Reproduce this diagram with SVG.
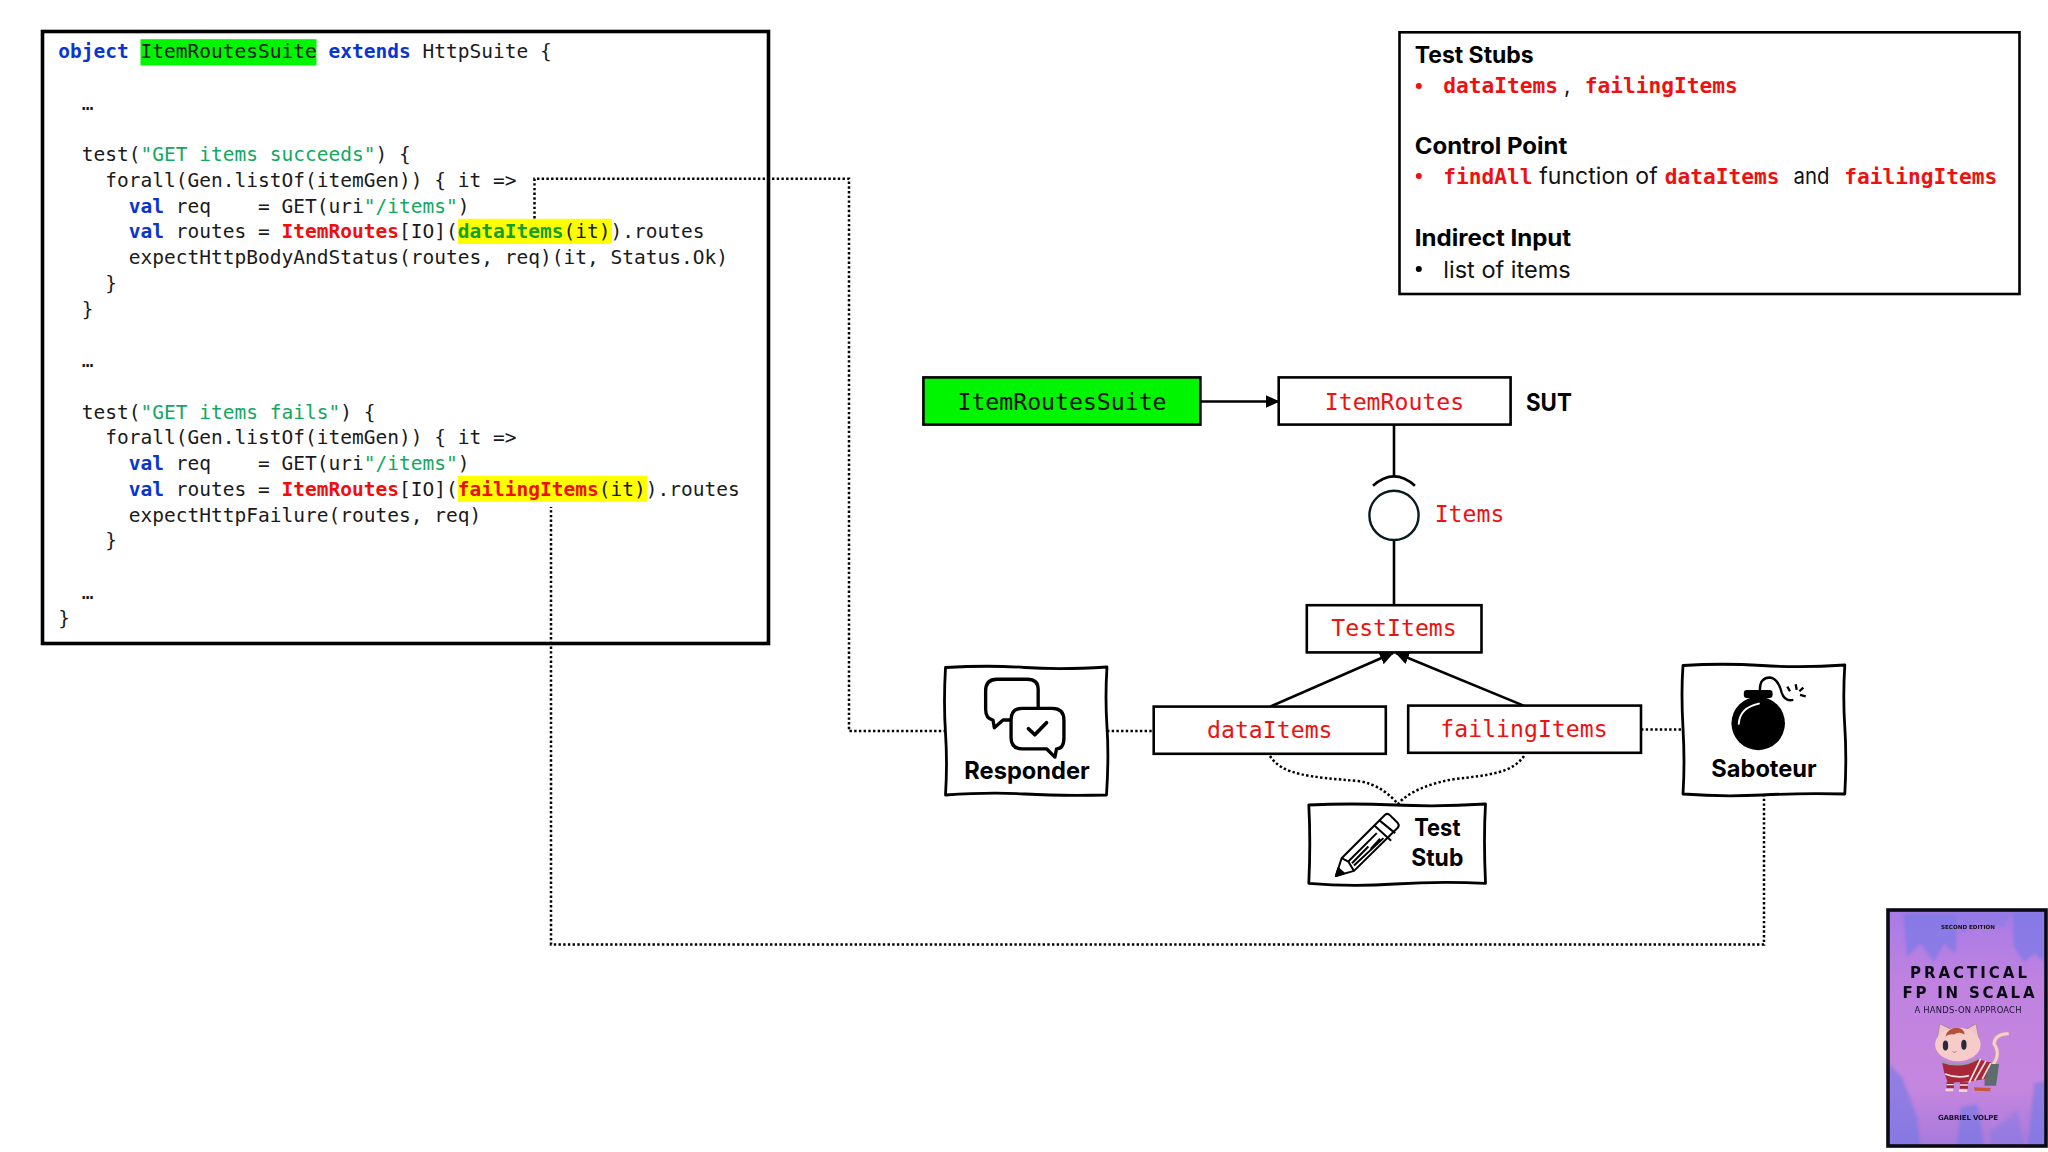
<svg xmlns="http://www.w3.org/2000/svg" width="2048" height="1152" viewBox="0 0 2048 1152">
<style>
.code{font-family:"DejaVu Sans Mono","Liberation Mono",monospace;font-size:19.53px;fill:#1a1a1a;white-space:pre}
.k{fill:#0a35d0;font-weight:700}.s{fill:#12a860}.r{fill:#f20d0d;font-weight:700}.g{fill:#12a02a;font-weight:700}
.mono{font-family:"DejaVu Sans Mono","Liberation Mono",monospace;font-size:23.17px;fill:#ee1111;text-anchor:middle}
.b{fill:#fff;stroke:#000;stroke-width:2.6}
.sk{fill:#fff;stroke:#000;stroke-width:2.8;stroke-linejoin:round}
.h{font-family:Inter,"Liberation Sans",sans-serif;font-size:22.5px;font-weight:700;fill:#000}
.t{font-family:Inter,"Liberation Sans",sans-serif;font-size:22.5px;font-weight:400;fill:#111}
.m{font-family:"DejaVu Sans Mono","Liberation Mono",monospace;font-size:21.2px;font-weight:700;fill:#ee1111}
.lbl{font-family:Inter,"Liberation Sans",sans-serif;font-size:24px;font-weight:700;fill:#000}
.dot{fill:none;stroke:#000;stroke-width:2.5;stroke-dasharray:2.4 2.3}
.ln{fill:none;stroke:#000;stroke-width:2.6}
.cv{font-family:"DejaVu Sans",sans-serif;text-anchor:middle}
</style>
<defs>
<marker id="ah" markerUnits="userSpaceOnUse" markerWidth="15" markerHeight="15" refX="13" refY="6.5" orient="auto"><path d="M0 0L14 6.500L0 13Z" fill="#000"/></marker>
<linearGradient id="cvbg" x1="0" y1="0" x2="0" y2="1"><stop offset="0" stop-color="#a77be6"/><stop offset=".3" stop-color="#bf82e0"/><stop offset=".75" stop-color="#c586de"/><stop offset="1" stop-color="#a87adc"/></linearGradient>
<filter id="bl" x="-20%" y="-20%" width="140%" height="140%"><feGaussianBlur stdDeviation="5"/></filter>
</defs>
<rect width="2048" height="1152" fill="#fff"/>

<g id="code-box">
<rect x="42.500" y="31.500" width="726" height="612" fill="#fff" stroke="#000" stroke-width="3.6"/>
<rect x="140.500" y="39.200" width="176" height="26.300" fill="#00f500"/>
<rect x="458" y="218.800" width="154" height="25.200" fill="#ffff00"/>
<rect x="458" y="475.800" width="189" height="26" fill="#ffff00"/>
<text class="code" x="58.200" y="58.200"><tspan class="k">object</tspan> ItemRoutesSuite <tspan class="k">extends</tspan> HttpSuite {</text>
<text class="code" x="81.700" y="109.700">…</text>
<text class="code" x="81.700" y="161.200">test(<tspan class="s">"GET items succeeds"</tspan>) {</text>
<text class="code" x="105.200" y="186.900">forall(Gen.listOf(itemGen)) { it =&gt;</text>
<text class="code" x="128.800" y="212.600"><tspan class="k">val</tspan> req    = GET(uri<tspan class="s">"/items"</tspan>)</text>
<text class="code" x="128.800" y="238.400"><tspan class="k">val</tspan> routes = <tspan class="r">ItemRoutes</tspan>[IO](<tspan class="g">dataItems</tspan>(it)).routes</text>
<text class="code" x="128.800" y="264.100">expectHttpBodyAndStatus(routes, req)(it, Status.Ok)</text>
<text class="code" x="105.200" y="289.900">}</text>
<text class="code" x="81.700" y="315.600">}</text>
<text class="code" x="81.700" y="367">…</text>
<text class="code" x="81.700" y="418.600">test(<tspan class="s">"GET items fails"</tspan>) {</text>
<text class="code" x="105.200" y="444.300">forall(Gen.listOf(itemGen)) { it =&gt;</text>
<text class="code" x="128.800" y="470"><tspan class="k">val</tspan> req    = GET(uri<tspan class="s">"/items"</tspan>)</text>
<text class="code" x="128.800" y="495.800"><tspan class="k">val</tspan> routes = <tspan class="r">ItemRoutes</tspan>[IO](<tspan class="r">failingItems</tspan>(it)).routes</text>
<text class="code" x="128.800" y="521.500">expectHttpFailure(routes, req)</text>
<text class="code" x="105.200" y="547.300">}</text>
<text class="code" x="81.700" y="598.700">…</text>
<text class="code" x="58.200" y="624.500">}</text>
</g>

<g id="legend">
<rect x="1399.500" y="32.300" width="620" height="261.700" fill="#fff" stroke="#000" stroke-width="2.6"/>
<text class="h" x="1414.700" y="63.200" textLength="119" lengthAdjust="spacingAndGlyphs">Test Stubs</text>
<circle cx="1418.800" cy="86" r="3" fill="#ee1111"/>
<text class="m" x="1443.300" y="93.300">dataItems</text><text class="t" x="1564" y="93.300">,</text><text class="m" x="1584.800" y="93.300">failingItems</text>
<text class="h" x="1414.700" y="153.600" textLength="152.500" lengthAdjust="spacingAndGlyphs">Control Point</text>
<circle cx="1418.800" cy="176" r="3" fill="#ee1111"/>
<text class="m" x="1443.300" y="183.700">findAll</text><text class="t" x="1539.300" y="183.700" textLength="118.400" lengthAdjust="spacingAndGlyphs">function of</text><text class="m" x="1664.700" y="183.700">dataItems</text><text class="t" x="1793.600" y="183.700" textLength="36" lengthAdjust="spacingAndGlyphs">and</text><text class="m" x="1844.300" y="183.700">failingItems</text>
<text class="h" x="1414.700" y="245.900" textLength="156.500" lengthAdjust="spacingAndGlyphs">Indirect Input</text>
<circle cx="1418.800" cy="269" r="3" fill="#000"/>
<text class="t" x="1443.300" y="278" textLength="127.500" lengthAdjust="spacingAndGlyphs">list of items</text>
</g>

<g id="connectors">
<path class="ln" marker-end="url(#ah)" d="M1200.400 401.500H1278.700"/>
<path class="ln" d="M1394 424.600V477"/>
<path class="ln" d="M1394 540V605.200"/>
<path class="ln" marker-end="url(#ah)" d="M1270.400 706.600L1393 653"/>
<path class="ln" marker-end="url(#ah)" d="M1523.600 705.600L1396 653"/>
<path class="dot" d="M534.500 218.500V178.700H849V731H945.500"/>
<path class="dot" d="M1107 731H1153.700"/>
<path class="dot" d="M1641 729.400H1683"/>
<path class="dot" d="M1764 794V944.500H551V507"/>
<path class="dot" d="M1270 756C1282 775 1310 777 1358 781C1378 784 1390 795 1398 804"/>
<path class="dot" d="M1524 756C1512 773 1490 775 1455 779C1430 783 1408 792 1398 804"/>
</g>

<g id="ItemRoutesSuite">
<rect x="923.400" y="377.400" width="277" height="47.200" fill="#00f500" stroke="#000" stroke-width="2.6"/>
<text class="mono" x="1062" y="409.900" style="fill:#111">ItemRoutesSuite</text>
</g>
<g id="ItemRoutes">
<rect class="b" x="1278.700" y="377.400" width="231.900" height="47.200"/>
<text class="mono" x="1394.500" y="409.900">ItemRoutes</text>
<text class="lbl" x="1526" y="410.500" textLength="45.800" lengthAdjust="spacingAndGlyphs">SUT</text>
</g>
<g id="Items">
<path class="ln" d="M1373 485.800Q1394 467 1415 485.800"/>
<circle cx="1394" cy="515.400" r="24.600" fill="#fff" stroke="#0a1a20" stroke-width="2.4"/>
<text class="mono" x="1469.500" y="521.900">Items</text>
</g>
<g id="TestItems">
<rect class="b" x="1306.800" y="605.200" width="174.700" height="47.200"/>
<text class="mono" x="1394" y="636.300">TestItems</text>
</g>
<g id="dataItems">
<rect class="b" x="1153.700" y="706.600" width="232.100" height="47.200"/>
<text class="mono" x="1269.800" y="737.700">dataItems</text>
</g>
<g id="failingItems">
<rect class="b" x="1408.200" y="705.600" width="232.800" height="47.200"/>
<text class="mono" x="1524" y="736.700">failingItems</text>
</g>

<g id="Responder">
<path class="sk" d="M945.500 667.500Q990 665 1025 667.500T1107 667Q1105 697 1107 727T1106.500 795Q1060 796 1025 794T945.500 795Q947.500 763 945.500 733T945.500 667.500Z"/>
<g transform="translate(923.400 642.400) scale(.3346)" fill="none" stroke="#000" stroke-linejoin="round" stroke-linecap="round">
<path stroke-width="10" d="M343 195V140Q343 110 310 110H220Q186 110 186 145V200Q186 228 208 232L212 255L238 232H262"/>
<path stroke-width="10" fill="#fff" d="M295 197H385Q420 197 420 232V285Q420 318 398 318L393 343L368 318H295Q262 318 262 285V232Q262 197 295 197Z"/>
<path stroke-width="11" d="M314 258L333 276L368 240"/>
</g>
<text class="lbl" x="964.300" y="778.900" textLength="125.400" lengthAdjust="spacingAndGlyphs">Responder</text>
</g>

<g id="Saboteur">
<path class="sk" d="M1683 665.500Q1722 663 1762 665.500T1844.800 665Q1842.800 697 1844.800 727T1844.800 794Q1802 793 1762 795T1683 794Q1685 763 1683 728T1683 665.500Z"/>
<g transform="translate(1405.200 642.400) scale(.3346)">
<circle cx="1055" cy="242" r="80" fill="#000"/>
<rect x="1012" y="142" width="86" height="24" rx="9" fill="#000"/>
<path d="M1060 142Q1060 105 1090 105Q1115 108 1125 150Q1135 178 1160 172" fill="none" stroke="#000" stroke-width="7"/>
<path d="M1142 132L1150 146M1167 125L1170 142M1190 135L1178 146M1197 161L1180 157" stroke="#000" stroke-width="7"/>
<path d="M997 243Q1000 195 1057 183" fill="none" stroke="#fff" stroke-width="6" stroke-linecap="round"/>
</g>
<text class="lbl" x="1711.300" y="776.900" textLength="105.400" lengthAdjust="spacingAndGlyphs">Saboteur</text>
</g>

<g id="TestStub">
<path class="sk" d="M1308.800 805Q1350 803 1395 805T1485.500 804Q1483.500 838 1485.500 883.300Q1440 881 1395 884T1308.800 883.300Q1310.800 843 1308.800 805Z"/>
<g transform="translate(1329.900 808) scale(.3346)" fill="none" stroke="#000" stroke-width="6" stroke-linejoin="round">
<path d="M18 203L35 150L165 20Q172 14 180 22L203 45Q209 52 202 60L72 188Z"/>
<path d="M35 150L55 160L72 188M133 52L183 98M148 37L195 75M55 160L140 75M72 172L160 90M66 165L115 115M122 122L150 92"/>
<path d="M18 203L25 180L42 195Z" fill="#000"/>
</g>
<text class="lbl" x="1414.200" y="836" textLength="46.200" lengthAdjust="spacingAndGlyphs">Test</text>
<text class="lbl" x="1411.200" y="866.200" textLength="52.200" lengthAdjust="spacingAndGlyphs">Stub</text>
</g>

<g id="book-cover">
<rect x="1888" y="910" width="158" height="236" fill="url(#cvbg)"/>
<g transform="translate(1876.900 903.300) scale(.3346)" filter="url(#bl)" opacity=".6" fill="#6f78e6">
<path d="M80 30H240L235 150L200 120L170 175L130 120L90 160Z"/>
<path d="M405 25H500V175L470 150L440 175L410 130Z"/>
<path d="M240 25H405L380 70L300 60L250 90Z" opacity=".6"/>
<path d="M35 480L75 520L120 640L130 725H35Z"/>
<path d="M250 610L300 600L320 725H240Z"/>
<path d="M470 540L505 530V725H450Z"/>
<path d="M340 680L420 620L440 725H340Z" opacity=".6"/>
</g>
<g transform="translate(1927.100 1013.700) scale(.3346)">
<path d="M195 155Q222 120 200 90Q202 62 240 60" fill="none" stroke="#c59aa8" stroke-width="13" stroke-linecap="round"/>
<path d="M195 155Q222 120 200 90Q202 62 240 60" fill="none" stroke="#f6cfcb" stroke-width="9" stroke-linecap="round"/>
<path d="M172 150L215 150L206 215L172 215Z" fill="#5d6c6e"/>
<path d="M140 220L190 222L188 232L142 230Z" fill="#c8583a"/>
<path d="M45 145Q100 160 152 136L192 146L172 195L132 202L62 207L50 172Z" fill="#a8283a"/>
<path d="M42 143Q100 165 152 134" fill="none" stroke="#9a9aa8" stroke-width="6"/>
<path d="M160 135L126 205M176 141L142 200M190 148L165 195M54 180Q90 195 125 185" fill="none" stroke="#f2e4e4" stroke-width="5"/>
<path d="M58 205H80V222H58ZM98 205H122V224H98Z" fill="#9c2638"/>
<path d="M58 212H80M98 213H122" stroke="#f2e4e4" stroke-width="4"/>
<path d="M55 224H78V232H55ZM95 226H120V234H95Z" fill="#f0d8c8"/>
<path d="M30 75L38 30L78 50ZM115 48L146 30L156 78Z" fill="#efc5cb" stroke="#a88090" stroke-width="2.500"/>
<ellipse cx="92" cy="92" rx="68" ry="50" fill="#f7ccc8"/>
<path d="M55 68Q62 42 90 42Q112 45 112 62Q95 52 80 62Q65 60 55 68Z" fill="#b0503a"/>
<ellipse cx="55" cy="95" rx="8" ry="15" fill="#2a2a3a"/><ellipse cx="110" cy="93" rx="8" ry="15" fill="#2a2a3a"/>
<path d="M76 113Q82 118 88 113" fill="none" stroke="#b06a6a" stroke-width="2.500"/>
</g>
<rect x="1888" y="910" width="158" height="236" fill="none" stroke="#0a0a14" stroke-width="3.600"/>
<text class="cv" x="1968" y="929" font-size="5.600" font-weight="700" textLength="54" fill="#111">SECOND EDITION</text>
<text class="cv" x="1968.500" y="977.600" font-size="15" font-weight="700" textLength="117" fill="#0a0a14">PRACTICAL</text>
<text class="cv" x="1968.500" y="997.700" font-size="15" font-weight="700" textLength="132" fill="#0a0a14">FP IN SCALA</text>
<text class="cv" x="1968" y="1012.700" font-size="8.400" textLength="107" fill="#1a1030">A HANDS-ON APPROACH</text>
<text class="cv" x="1968" y="1120" font-size="7" font-weight="700" textLength="60" fill="#1a1030">GABRIEL VOLPE</text>
</g>
</svg>
